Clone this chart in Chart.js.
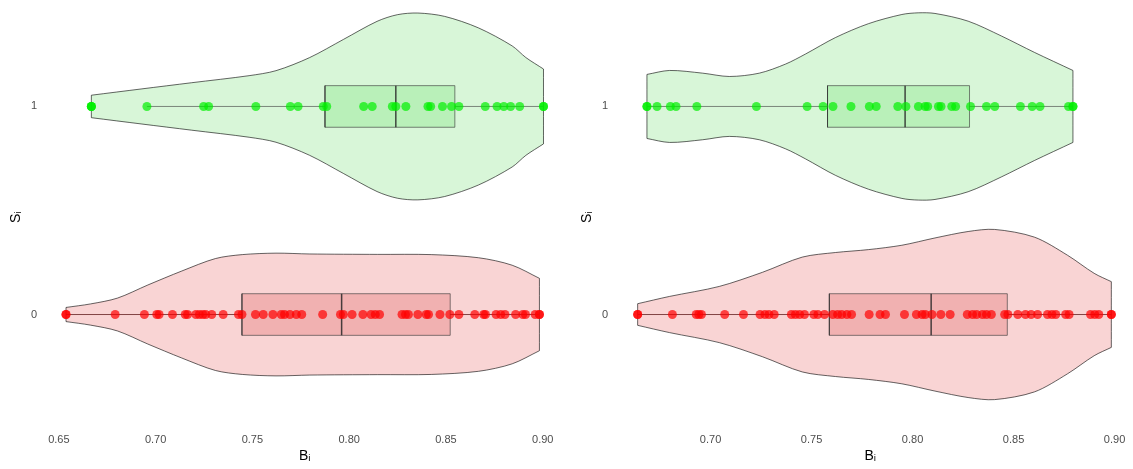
<!DOCTYPE html>
<html>
<head>
<meta charset="utf-8">
<script src="https://cdn.jsdelivr.net/npm/chart.js@4.4.1/dist/chart.umd.min.js"></script>
<style>
  html, body { margin: 0; padding: 0; background: #fff; }
  #wrap { position: relative; width: 1133px; height: 469px; overflow: hidden; }
  #leftChart { position: absolute; left: 0; top: 0; }
  #rightChart { position: absolute; left: 572px; top: 0; }
</style>
</head>
<body>
<div id="wrap">
  <canvas id="leftChart" width="572" height="469"></canvas>
  <canvas id="rightChart" width="561" height="469"></canvas>
</div>
<script>
// ─── data ───
const categories = ['0', '1'];

// B_i values per group (y = 0 red, y = 1 green)
const leftRed = [0.6537, 0.6791, 0.6942, 0.7006, 0.7018, 0.7087, 0.7153, 0.7165, 0.7208, 0.7226,
    0.7244, 0.7259, 0.7290, 0.7349, 0.7428, 0.7446, 0.7516, 0.7556, 0.7606, 0.7649, 0.7666,
    0.7694, 0.7727, 0.7755, 0.7863, 0.7955, 0.7970, 0.8015, 0.8071, 0.8113, 0.8135, 0.8157,
    0.8273, 0.8291, 0.8306, 0.8355, 0.8398, 0.8410, 0.8469, 0.8520, 0.8567, 0.8649, 0.8695,
    0.8704, 0.8759, 0.8783, 0.8805, 0.8860, 0.8897, 0.8911, 0.8961, 0.8983];
const leftGreen = [0.6668, 0.6955, 0.7248, 0.7274, 0.7518, 0.7696, 0.7736, 0.7866, 0.7884,
    0.8075, 0.8119, 0.8223, 0.8241, 0.8293, 0.8407, 0.8421, 0.8482, 0.8529, 0.8567, 0.8703,
    0.8764, 0.8799, 0.8834, 0.8881, 0.9004];
const rightRed = [0.6639, 0.6811, 0.6929, 0.6942, 0.6955, 0.7070, 0.7163, 0.7245, 0.7269,
    0.7289, 0.7315, 0.7400, 0.7420, 0.7441, 0.7465, 0.7511, 0.7531, 0.7564, 0.7605, 0.7629,
    0.7649, 0.7675, 0.7698, 0.7785, 0.7839, 0.7866, 0.7960, 0.8019, 0.8047, 0.8063, 0.8096,
    0.8140, 0.8186, 0.8271, 0.8297, 0.8317, 0.8346, 0.8366, 0.8390, 0.8456, 0.8472, 0.8521,
    0.8559, 0.8587, 0.8619, 0.8668, 0.8690, 0.8709, 0.8758, 0.8775, 0.8881, 0.8902, 0.8922,
    0.8984];
const rightGreen = [0.6685, 0.6735, 0.6801, 0.6829, 0.6932, 0.7227, 0.7478, 0.7557, 0.7606,
    0.7695, 0.7786, 0.7820, 0.7927, 0.7967, 0.8029, 0.8062, 0.8075, 0.8128, 0.8141, 0.8194,
    0.8213, 0.8287, 0.8366, 0.8407, 0.8534, 0.8592, 0.8631, 0.8772, 0.8794];

// violin outlines: positions along B_i and half widths in category units
const leftRedViolinX = [0.6537, 0.6664, 0.6803, 0.6960, 0.7135, 0.7309, 0.7448, 0.7622,
    0.7797, 0.8145, 0.8424, 0.8668, 0.8842, 0.8983];
const leftRedViolinW = [0.034, 0.051, 0.079, 0.142, 0.209, 0.269, 0.288, 0.295,
    0.291, 0.289, 0.288, 0.273, 0.237, 0.174];
const leftGreenViolinX = [0.6668, 0.6925, 0.7186, 0.7483, 0.7622, 0.7796, 0.7970, 0.8144,
    0.8249, 0.8355, 0.8493, 0.8667, 0.8842, 0.8913, 0.9004];
const leftGreenViolinW = [0.054, 0.084, 0.114, 0.148, 0.172, 0.235, 0.322, 0.409,
    0.441, 0.449, 0.433, 0.378, 0.291, 0.235, 0.180];
const rightRedViolinX = [0.6639, 0.6797, 0.7043, 0.7257, 0.7454, 0.7618, 0.7782, 0.7947,
    0.8111, 0.8275, 0.8406, 0.8603, 0.8767, 0.8899, 0.8984];
const rightRedViolinW = [0.052, 0.087, 0.135, 0.203, 0.276, 0.298, 0.312, 0.333,
    0.368, 0.399, 0.409, 0.372, 0.285, 0.198, 0.158];
const rightGreenViolinX = [0.6685, 0.6797, 0.6961, 0.7093, 0.7241, 0.7372, 0.7470, 0.7618,
    0.7782, 0.7947, 0.8028, 0.8111, 0.8275, 0.8439, 0.8603, 0.8794];
const rightGreenViolinW = [0.154, 0.173, 0.160, 0.144, 0.160, 0.204, 0.252, 0.331,
    0.398, 0.442, 0.450, 0.447, 0.410, 0.339, 0.260, 0.173];

// box stats: [whisker low, Q1, median, Q3, whisker high]
const leftRedBox = [0.6537, 0.7446, 0.7961, 0.8522, 0.8983];
const leftGreenBox = [0.6955, 0.7875, 0.8241, 0.8546, 0.9004];
const rightRedBox = [0.6639, 0.7588, 0.8092, 0.8469, 0.8984];
const rightGreenBox = [0.6685, 0.7579, 0.7963, 0.8282, 0.8794];

const leftTicks = [0.65, 0.70, 0.75, 0.80, 0.85, 0.90];
const rightTicks = [0.70, 0.75, 0.80, 0.85, 0.90];

// ─── styling ───
const RED = { violin: '#f9d4d4', box: 'rgba(230,120,120,0.38)', dot: 'rgba(255,0,0,0.7)', whisker: 'rgba(90,20,20,0.75)' };
const GREEN = { violin: '#d8f6d8', box: 'rgba(130,230,130,0.35)', dot: 'rgba(0,240,0,0.7)', whisker: 'rgba(60,60,60,0.6)' };
const FONT = "'Liberation Sans', Arial, sans-serif";
const BOX_HALF = 0.1;

function violinShape(xs, ws, cat) {
    const pts = [];
    const n = xs.length;
    pts.push({ x: xs[0], y: cat + ws[0] });
    for (let i = 0; i < n; i++) pts.push({ x: xs[i], y: cat + ws[i] });
    pts.push({ x: xs[n - 1], y: cat + ws[n - 1] });
    pts.push({ x: xs[n - 1], y: cat - ws[n - 1] });
    for (let i = n - 1; i >= 0; i--) pts.push({ x: xs[i], y: cat - ws[i] });
    pts.push({ x: xs[0], y: cat - ws[0] });
    pts.push({ x: xs[0], y: cat + ws[0] });
    return pts;
}

function groupDatasets(values, xs, ws, box, cat, col) {
    const [wLo, q1, med, q3, wHi] = box;
    const outliers = values.filter(v => v < wLo || v > wHi);
    const extremes = [Math.min(...values), Math.max(...values)];
    return [{
        data: violinShape(xs, ws, cat),
        borderColor: 'rgba(0,0,0,0.6)', borderWidth: 1, backgroundColor: col.violin,
        fill: 'shape', tension: 0.3, pointRadius: 0, order: 6
    }, {
        data: [{ x: q1, y: cat - BOX_HALF }, { x: q3, y: cat - BOX_HALF }, { x: q3, y: cat + BOX_HALF },
               { x: q1, y: cat + BOX_HALF }, { x: q1, y: cat - BOX_HALF }],
        borderColor: 'rgba(50,50,50,0.6)', borderWidth: 1, backgroundColor: col.box,
        fill: 'shape', tension: 0, pointRadius: 0, order: 5
    }, {
        data: [{ x: wLo, y: cat }, { x: q1, y: cat }],
        borderColor: col.whisker, borderWidth: 1, pointRadius: 0, fill: false, order: 4
    }, {
        data: [{ x: q3, y: cat }, { x: wHi, y: cat }],
        borderColor: col.whisker, borderWidth: 1, pointRadius: 0, fill: false, order: 4
    }, {
        data: [{ x: med, y: cat - BOX_HALF }, { x: med, y: cat + BOX_HALF }],
        borderColor: 'rgba(40,40,40,0.85)', borderWidth: 1.5, pointRadius: 0, fill: false, order: 3
    }, {
        data: values.map(v => ({ x: v, y: cat })),
        showLine: false, pointRadius: 4.5, pointBorderWidth: 0,
        pointBackgroundColor: col.dot, pointBorderColor: col.dot, order: 2
    }, {
        data: extremes.concat(outliers).map(v => ({ x: v, y: cat })),
        showLine: false, pointRadius: 4.5, pointBorderWidth: 0,
        pointBackgroundColor: col.dot, pointBorderColor: col.dot, order: 1
    }];
}

function makePanel(canvasId, opts) {
    const ctx = document.getElementById(canvasId).getContext('2d');
    return new Chart(ctx, {
        type: 'line',
        data: {
            datasets: [
                ...groupDatasets(opts.red, opts.redVX, opts.redVW, opts.redBox, 0, RED),
                ...groupDatasets(opts.green, opts.greenVX, opts.greenVW, opts.greenBox, 1, GREEN)
            ]
        },
        options: {
            responsive: false,
            animation: false,
            devicePixelRatio: 1,
            layout: { padding: 0 },
            plugins: { legend: { display: false }, tooltip: { enabled: false } },
            scales: {
                x: {
                    type: 'linear',
                    min: opts.xMin, max: opts.xMax,
                    afterBuildTicks: s => { s.ticks = opts.ticks.map(v => ({ value: v })); },
                    afterFit: s => { s.height = 39; },
                    grid: { display: false, drawTicks: false },
                    border: { display: false },
                    ticks: {
                        padding: 3, color: '#4d4d4d', font: { family: FONT, size: 11 },
                        callback: v => v.toFixed(2)
                    },
                    title: {
                        display: true, text: 'Bᵢ', color: '#000',
                        font: { family: FONT, size: 14 }, padding: { top: 0, bottom: 4 }
                    }
                },
                y: {
                    type: 'linear',
                    min: -0.555, max: 1.49,
                    afterBuildTicks: s => { s.ticks = [0, 1].map(v => ({ value: v })); },
                    afterFit: s => { s.width = opts.yWidth; s.paddingTop = 0; s.paddingBottom = 0; },
                    grid: { display: false, drawTicks: false },
                    border: { display: false },
                    ticks: {
                        padding: opts.yPad, color: '#4d4d4d', font: { family: FONT, size: 11 },
                        callback: v => categories[v]
                    },
                    title: {
                        display: true, text: 'Sᵢ', color: '#000',
                        font: { family: FONT, size: 14 }, padding: { top: opts.titlePad, bottom: 0 }
                    }
                }
            }
        }
    });
}

makePanel('leftChart', {
    red: leftRed, redVX: leftRedViolinX, redVW: leftRedViolinW, redBox: leftRedBox,
    green: leftGreen, greenVX: leftGreenViolinX, greenVW: leftGreenViolinW, greenBox: leftGreenBox,
    ticks: leftTicks, xMin: 0.6413, xMax: 0.9128, yWidth: 42, yPad: 5, titlePad: 8
});

makePanel('rightChart', {
    red: rightRed, redVX: rightRedViolinX, redVW: rightRedViolinW, redBox: rightRedBox,
    green: rightGreen, greenVX: rightGreenViolinX, greenVW: rightGreenViolinW, greenBox: rightGreenBox,
    ticks: rightTicks, xMin: 0.6512, xMax: 0.9069, yWidth: 40, yPad: 4, titlePad: 7
});
</script>
</body>
</html>
